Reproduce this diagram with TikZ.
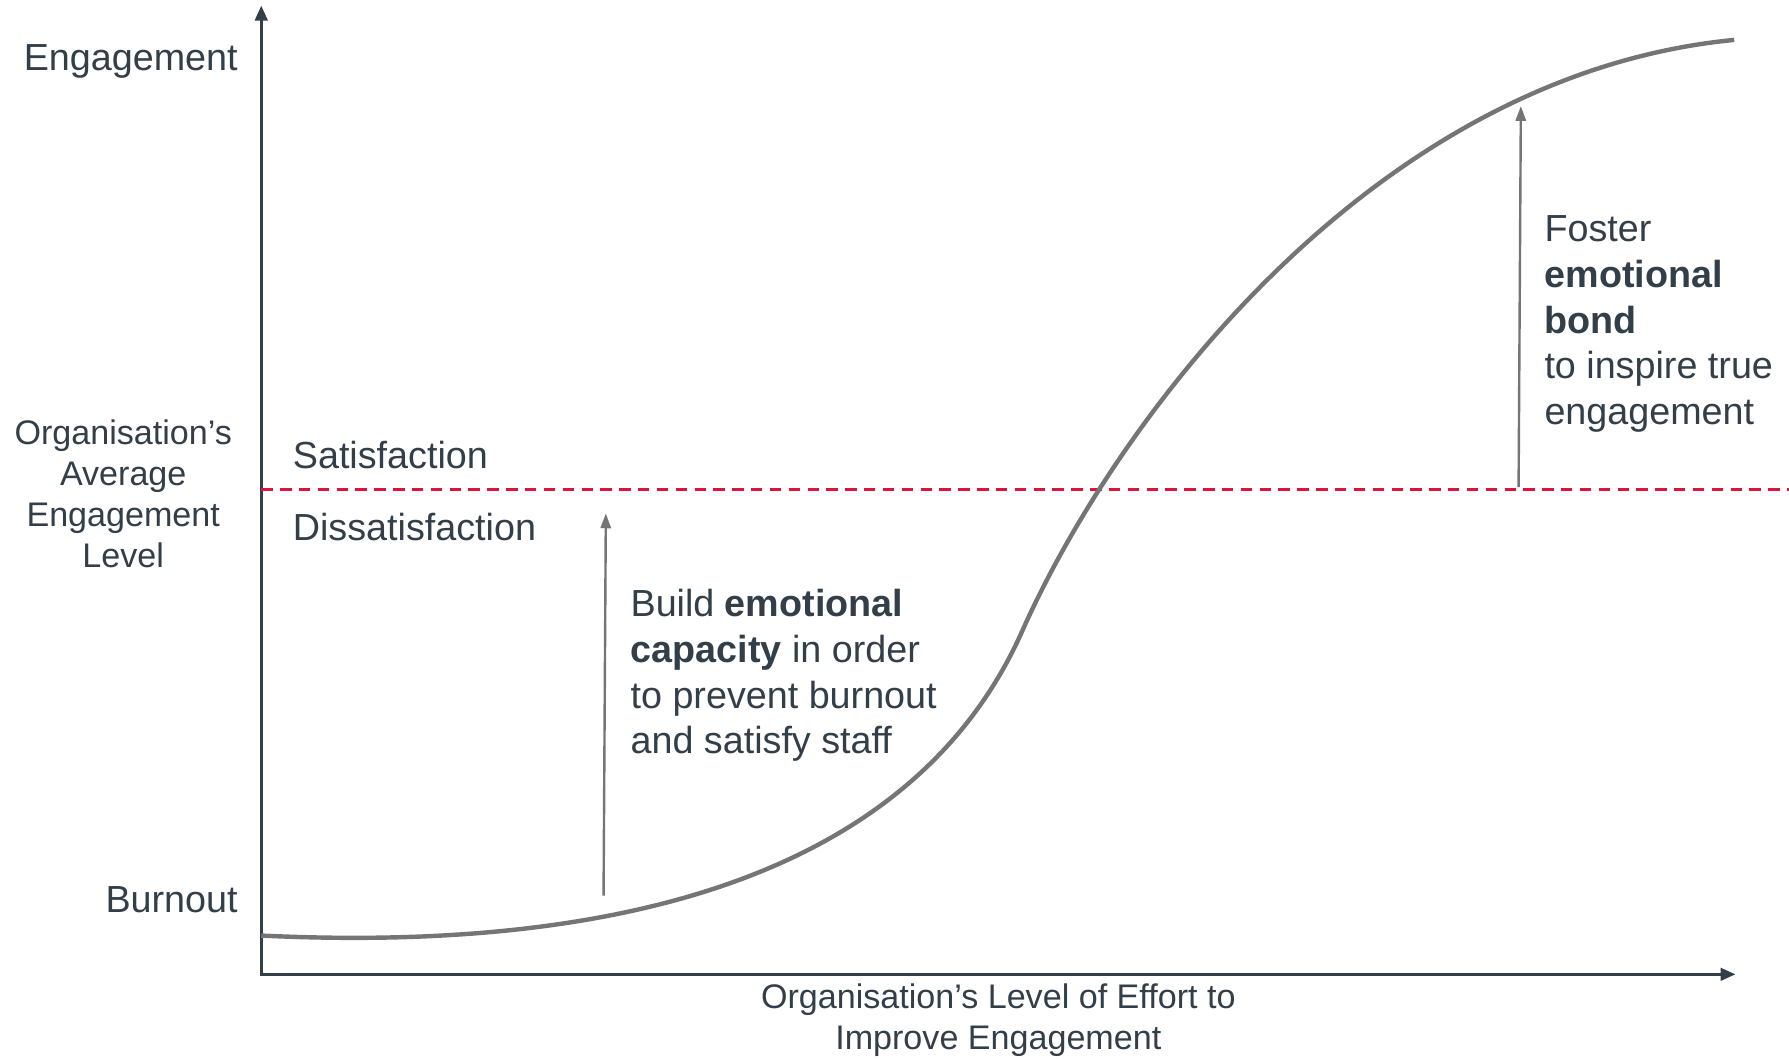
\documentclass[tikz,border=0pt]{standalone}
\usepackage{fontspec}
\setmainfont{Liberation Sans}
\usetikzlibrary{arrows.meta}
\definecolor{slate}{HTML}{333F48}
\definecolor{curvegray}{HTML}{757575}
\definecolor{dashred}{HTML}{DC143C}
\begin{document}
\begin{tikzpicture}[x=0.01cm,y=0.01cm]
\useasboundingbox (0,0) rectangle (1568,928);
\tikzstyle{Axis} = [{Triangle[length=0.13cm,width=0.11cm]}-{Triangle[length=0.13cm,width=0.11cm]}, line width=0.7pt, draw=slate, line join=miter]
\tikzstyle{Curve} = [line width=1.1pt, draw=curvegray]
\tikzstyle{Level} = [dash pattern=on 0.1cm off 0.065cm, line width=0.8pt, draw=dashred]
\tikzstyle{Rise} = [-{Triangle[length=0.13cm,width=0.09cm]}, line width=0.6pt, draw=curvegray]
\tikzstyle{Big} = [text=slate, inner sep=0, font=\fontsize{9.4}{11.4}\selectfont]
\tikzstyle{Small} = [text=slate, inner sep=0, font=\fontsize{8.5}{10.2}\selectfont, align=center]

\coordinate (o) at (229,74);
\coordinate (ytop) at (229,923);
\coordinate (xend) at (1521,74);
\coordinate (l0) at (229,499);
\coordinate (l1) at (1568,499);
\coordinate (r1) at (529,143);
\coordinate (r2) at (531,478);
\coordinate (f1) at (1331,501);
\coordinate (f2) at (1333,835);
\coordinate (c0) at (229,108);
\coordinate (c1) at (896,375);
\coordinate (c2) at (1520,893);

\node [Big, anchor=east] (eng) at (209,874) {Engagement};
\node [Small] (avg) at (108,495) {Organisation’s\\Average\\Engagement\\Level};
\node [Big, anchor=east] (burn) at (209,139) {Burnout};
\node [Big, anchor=west] (sat) at (256,529) {Satisfaction};
\node [Big, anchor=west] (dissat) at (256,466) {Dissatisfaction};
\node [Big, anchor=west, align=left] (build) at (552,336) {Build \textbf{emotional}\\\textbf{capacity} in order\\to prevent burnout\\and satisfy staff};
\node [Big, anchor=west, align=left] (foster) at (1353,644) {Foster\\\textbf{emotional}\\\textbf{bond}\\to inspire true\\engagement};
\node [Small] (effort) at (875,34) {Organisation’s Level of Effort to\\Improve Engagement};

\draw [Axis] (ytop) -- (o) -- (xend);
\draw [Level] (l0) -- (l1);
\draw [Curve] (c0) .. controls (520,94) and (796,150) .. (c1)
                   .. controls (976,555) and (1200,862) .. (c2);
\draw [Rise] (r1) -- (r2);
\draw [Rise] (f1) -- (f2);
\end{tikzpicture}
\end{document}
